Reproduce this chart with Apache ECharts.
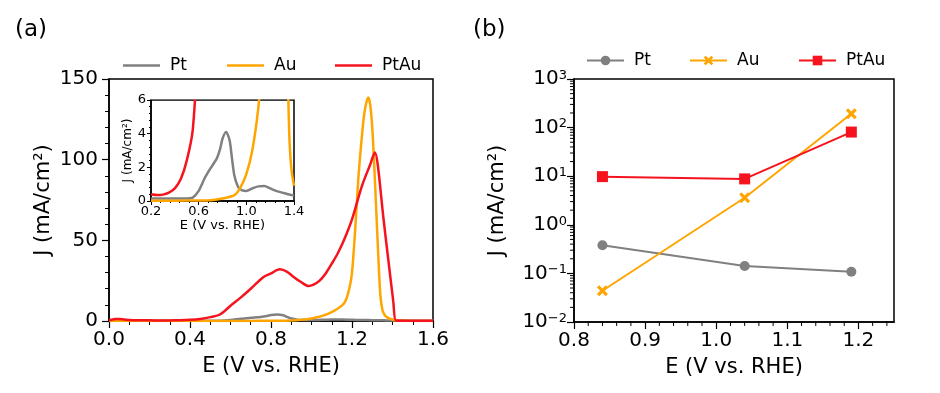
<!DOCTYPE html>
<html>
<head>
<meta charset="utf-8">
<script src="https://cdn.jsdelivr.net/npm/echarts@6/dist/echarts.min.js"></script>
<style>
html,body{margin:0;padding:0;background:#fff;}
#chart{width:940px;height:393px;}
</style>
</head>
<body>
<div id="chart"></div>
<script>
// ---------- Panel (a): LSV curves ----------
const ptE = [0, 0.1, 0.2, 0.3, 0.4, 0.5, 0.55, 0.6, 0.65, 0.7, 0.75, 0.78, 0.8, 0.83, 0.86, 0.88, 0.9, 0.93, 0.96, 1.0, 1.05, 1.1, 1.15, 1.2, 1.25, 1.3, 1.35, 1.4, 1.5, 1.6];
const ptJ = [0.15, 0.15, 0.15, 0.15, 0.15, 0.15, 0.2, 0.6, 1.35, 1.95, 2.5, 3.1, 3.7, 4.1, 3.6, 2.5, 1.5, 0.85, 0.65, 0.6, 0.75, 0.87, 0.89, 0.75, 0.6, 0.5, 0.4, 0.32, 0.2, 0.15];

const auE = [0, 0.2, 0.4, 0.6, 0.7, 0.8, 0.9, 0.95, 1.0, 1.05, 1.1, 1.15, 1.17, 1.19, 1.2, 1.21, 1.22, 1.23, 1.24, 1.25, 1.26, 1.27, 1.28, 1.29, 1.3, 1.31, 1.32, 1.33, 1.34, 1.35, 1.36, 1.37, 1.38, 1.39, 1.4, 1.42, 1.45, 1.5, 1.6];
const auJ = [0.02, 0.02, 0.02, 0.03, 0.05, 0.15, 0.35, 0.8, 1.6, 3.0, 5.5, 9.5, 13, 22, 30, 46, 65, 86, 102, 116, 128, 135, 138.5, 134, 120, 96, 68, 40, 16, 7, 4, 2.6, 1.8, 1.3, 0.9, 0.3, 0.1, 0.05, 0.05];

const ptauE = [0, 0.03, 0.05, 0.08, 0.12, 0.2, 0.25, 0.3, 0.35, 0.4, 0.45, 0.5, 0.55, 0.6, 0.65, 0.7, 0.76, 0.8, 0.844, 0.88, 0.91, 0.95, 0.984, 1.01, 1.04, 1.07, 1.1, 1.13, 1.16, 1.2, 1.25, 1.29, 1.313, 1.327, 1.355, 1.384, 1.404, 1.417, 1.45, 1.5, 1.6];
const ptauJ = [0.5, 1.2, 1.3, 0.8, 0.5, 0.4, 0.35, 0.38, 0.5, 0.75, 1.3, 2.4, 4.2, 9.5, 14.5, 20, 27, 29.5, 32, 30.5, 27.5, 24, 21.7, 22.5, 25, 29.5, 35.5, 42, 50, 63, 84, 97, 104.5, 97, 64, 33, 12, 0.3, 0.2, 0.2, 0.2];

// inset window (zoom of panel a)
const insetEmin = 0.2, insetEmax = 1.4;

// ---------- Panel (b): J at fixed potentials ----------
const potB = [0.84, 1.04, 1.19];
const ptB = [0.38, 0.142, 0.108];
const auB = [0.044, 3.6, 193];
const ptauB = [9.8, 8.8, 81];

// minor tick positions for panel (b) axes
const bMinorX = [0.82, 0.84, 0.86, 0.88, 0.92, 0.94, 0.96, 0.98, 1.02, 1.04, 1.06, 1.08, 1.12, 1.14, 1.16, 1.18, 1.22, 1.24];
const bMinorY = [0.02, 0.03, 0.04, 0.05, 0.06, 0.07, 0.08, 0.09,
                 0.2, 0.3, 0.4, 0.5, 0.6, 0.7, 0.8, 0.9,
                 2, 3, 4, 5, 6, 7, 8, 9,
                 20, 30, 40, 50, 60, 70, 80, 90,
                 200, 300, 400, 500, 600, 700, 800, 900];

const colors = { Pt: '#808080', Au: '#ffa500', PtAu: '#f5141e' };
const FONT = 'DejaVu Sans';

const pairs = (xs, ys) => xs.map((x, i) => [x, ys[i]]);
const inWindow = arr => arr.filter(p => p[0] >= insetEmin - 1e-9 && p[0] <= insetEmax + 1e-9);
const xMarker = 'path://M2,0 L5,3 L8,0 L10,2 L7,5 L10,8 L8,10 L5,7 L2,10 L0,8 L3,5 L0,2 Z';

const chart = echarts.init(document.getElementById('chart'), null, { renderer: 'canvas' });

const axisLineStyle = { show: true, lineStyle: { color: '#000', width: 1.5 } };
const lbl = (size, margin) => ({ color: '#000', fontFamily: FONT, fontSize: size, margin: margin });

function lineSeries(name, data, xi, yi, extra) {
  return Object.assign({
    type: 'line', name: name, data: data, xAxisIndex: xi, yAxisIndex: yi,
    showSymbol: false, symbol: 'none', smooth: 0.3,
    lineStyle: { width: 2.5, color: colors[name.slice(2)] },
    itemStyle: { color: colors[name.slice(2)] },
    animation: false, silent: true
  }, extra || {});
}

function logLabel(v) {
  const e = Math.round(Math.log10(v));
  const s = String(e).replace('-', '\u2212');
  return '{b|10}{s|' + s + '}';
}

function legendItem(seriesName, left, top, isB) {
  const o = {
    data: [seriesName], left: left, top: top,
    itemWidth: 37, itemHeight: isB ? 12 : 14, itemGap: 0,
    selectedMode: false,
    formatter: n => n.slice(2),
    textStyle: { fontFamily: FONT, fontSize: 17, color: '#000', padding: [0, 0, 0, 5] }
  };
  if (!isB) { o.icon = 'rect'; o.itemHeight = 2.5; o.top = top + 6; }
  return o;
}

function minorTickSeries(data, xi, yi, dir) {
  return {
    type: 'custom', xAxisIndex: xi, yAxisIndex: yi, data: data, clip: false, silent: true, animation: false,
    z: 5,
    renderItem: function (params, api) {
      const p = api.coord([api.value(0), api.value(1)]);
      const shape = dir === 'x'
        ? { x1: p[0], y1: p[1], x2: p[0], y2: p[1] + 4 }
        : { x1: p[0] - 4, y1: p[1], x2: p[0], y2: p[1] };
      return { type: 'line', shape: shape, style: { stroke: '#000', lineWidth: 1 } };
    }
  };
}

// inset frame (pixel layout)
const INSET = { left: 151, top: 100, width: 143, height: 101 };

const option = {
  backgroundColor: '#fff',
  animation: false,
  title: [
    { text: '(a)', left: 10, top: 14, textStyle: { fontFamily: FONT, fontSize: 23, fontWeight: 'normal', color: '#000' } },
    { text: '(b)', left: 468, top: 14, textStyle: { fontFamily: FONT, fontSize: 23, fontWeight: 'normal', color: '#000' } }
  ],
  legend: [
    legendItem('a-Pt', 118, 46, false),
    legendItem('a-Au', 222, 46, false),
    legendItem('a-PtAu', 330, 46, false),
    legendItem('b-Pt', 581, 47, true),
    legendItem('b-Au', 684, 47, true),
    legendItem('b-PtAu', 793, 47, true)
  ],
  // white strip that trims the line-width overhang of the inset curves above the inset frame
  graphic: [
    { type: 'rect', z: 100, silent: true, shape: { x: INSET.left - 1, y: INSET.top - 6, width: INSET.width + 3, height: 5.2 }, style: { fill: '#fff' } }
  ],
  grid: [
    { left: 109, top: 79, width: 324, height: 242, show: true, borderColor: '#000', borderWidth: 1.5, backgroundColor: 'transparent' },
    { left: INSET.left, top: INSET.top, width: INSET.width, height: INSET.height, show: true, borderColor: '#000', borderWidth: 1.5, backgroundColor: 'transparent' },
    { left: 574, top: 79, width: 320, height: 243, show: true, borderColor: '#000', borderWidth: 1.5, backgroundColor: 'transparent' }
  ],
  xAxis: [
    {
      gridIndex: 0, type: 'value', min: 0, max: 1.6, interval: 0.4,
      axisLine: axisLineStyle, splitLine: { show: false },
      axisTick: { length: 7, lineStyle: { color: '#000', width: 1.2 } },
      minorTick: { show: true, splitNumber: 4, length: 4, lineStyle: { color: '#000', width: 1 } },
      axisLabel: Object.assign(lbl(20, 9), { formatter: v => v.toFixed(1) }),
      name: 'E (V vs. RHE)', nameLocation: 'middle', nameGap: 35,
      nameTextStyle: { fontFamily: FONT, fontSize: 21, color: '#000' }
    },
    {
      gridIndex: 1, type: 'value', min: insetEmin, max: insetEmax, interval: 0.4,
      axisLine: { show: true, lineStyle: { color: '#000', width: 1.5 } }, splitLine: { show: false },
      axisTick: { length: 4, lineStyle: { color: '#000', width: 1 } },
      minorTick: { show: true, splitNumber: 5, length: 2, lineStyle: { color: '#000', width: 1 } },
      axisLabel: Object.assign(lbl(13, 4), { formatter: v => v.toFixed(1) }),
      name: 'E (V vs. RHE)', nameLocation: 'middle', nameGap: 17,
      nameTextStyle: { fontFamily: FONT, fontSize: 13, color: '#000' }
    },
    {
      gridIndex: 2, type: 'value', min: 0.8, max: 1.25, interval: 0.1,
      axisLine: axisLineStyle, splitLine: { show: false },
      axisTick: { length: 7, lineStyle: { color: '#000', width: 1.2 } },
      axisLabel: Object.assign(lbl(20, 9), { formatter: v => (Math.abs(v - 1.25) < 1e-6 ? '' : v.toFixed(1)), showMaxLabel: false }),
      name: 'E (V vs. RHE)', nameLocation: 'middle', nameGap: 35,
      nameTextStyle: { fontFamily: FONT, fontSize: 21, color: '#000' }
    }
  ],
  yAxis: [
    {
      gridIndex: 0, type: 'value', min: 0, max: 150, interval: 50,
      axisLine: axisLineStyle, splitLine: { show: false },
      axisTick: { length: 7, lineStyle: { color: '#000', width: 1.2 } },
      minorTick: { show: true, splitNumber: 5, length: 4, lineStyle: { color: '#000', width: 1 } },
      axisLabel: lbl(20, 11),
      name: 'J (mA/cm\u00b2)', nameLocation: 'middle', nameGap: 55,
      nameTextStyle: { fontFamily: FONT, fontSize: 21, color: '#000' }
    },
    {
      gridIndex: 1, type: 'value', min: 0, max: 6, interval: 2,
      axisLine: { show: true, lineStyle: { color: '#000', width: 1.5 } }, splitLine: { show: false },
      axisTick: { length: 4, lineStyle: { color: '#000', width: 1 } },
      minorTick: { show: true, splitNumber: 5, length: 2, lineStyle: { color: '#000', width: 1 } },
      axisLabel: lbl(13, 5),
      name: 'J (mA/cm\u00b2)', nameLocation: 'middle', nameGap: 15,
      nameTextStyle: { fontFamily: FONT, fontSize: 12, color: '#000' }
    },
    {
      gridIndex: 2, type: 'log', logBase: 10, min: 0.01, max: 1000,
      axisLine: axisLineStyle, splitLine: { show: false },
      axisTick: { length: 7, lineStyle: { color: '#000', width: 1.2 } },
      axisLabel: {
        color: '#000', fontFamily: FONT, margin: 7, formatter: logLabel,
        rich: {
          b: { fontFamily: FONT, fontSize: 20, lineHeight: 20, verticalAlign: 'bottom', color: '#000' },
          s: { fontFamily: FONT, fontSize: 13, lineHeight: 13, verticalAlign: 'top', color: '#000' }
        }
      },
      name: 'J (mA/cm\u00b2)', nameLocation: 'middle', nameGap: 66,
      nameTextStyle: { fontFamily: FONT, fontSize: 21, color: '#000' }
    }
  ],
  series: [
    lineSeries('a-Pt', pairs(ptE, ptJ), 0, 0),
    lineSeries('a-Au', pairs(auE, auJ), 0, 0),
    lineSeries('a-PtAu', pairs(ptauE, ptauJ), 0, 0),
    lineSeries('a-Pt', inWindow(pairs(ptE, ptJ)), 1, 1, { smooth: 0.25 }),
    lineSeries('a-Au', inWindow(pairs(auE, auJ)), 1, 1, { smooth: 0.25 }),
    lineSeries('a-PtAu', inWindow(pairs(ptauE, ptauJ)), 1, 1, { smooth: 0.25 }),
    lineSeries('b-Pt', pairs(potB, ptB), 2, 2, { smooth: false, showSymbol: true, symbol: 'circle', symbolSize: 10, lineStyle: { width: 2, color: colors.Pt } }),
    lineSeries('b-Au', pairs(potB, auB), 2, 2, { smooth: false, showSymbol: true, symbol: xMarker, symbolSize: 11, lineStyle: { width: 2, color: colors.Au } }),
    lineSeries('b-PtAu', pairs(potB, ptauB), 2, 2, { smooth: false, showSymbol: true, symbol: 'rect', symbolSize: 11, lineStyle: { width: 2, color: colors.PtAu } }),
    minorTickSeries(bMinorX.map(v => [v, 0.01]), 2, 2, 'x'),
    minorTickSeries(bMinorY.map(v => [0.8, v]), 2, 2, 'y')
  ]
};

chart.setOption(option);
</script>
</body>
</html>
